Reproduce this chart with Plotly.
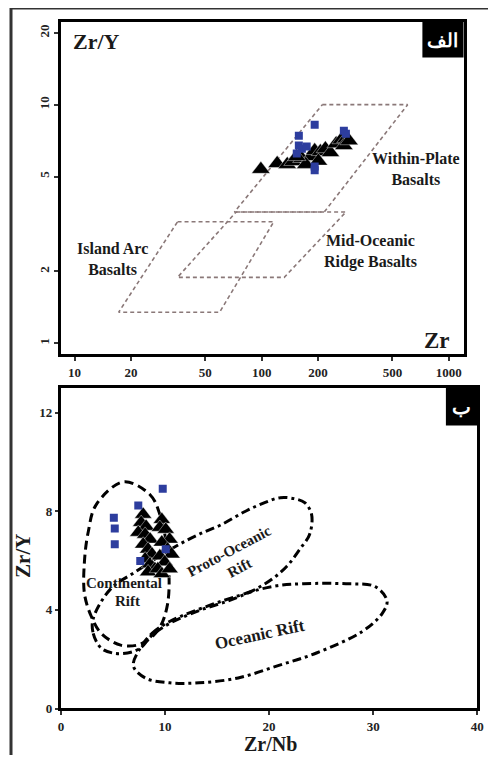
import plotly.graph_objects as go

# page shows the figure offset by the default 8px body margin
OFF = 8
W, H = 496 - OFF, 763 - OFF
SERIF = "Liberation Serif"

# ---------------- Panel A (Zr/Y vs Zr, log-log) ----------------
tri_a_zr = [99, 121, 137, 147, 164, 183, 192, 206, 219, 233, 250, 266, 282, 275, 293, 201, 172, 154]
tri_a_zry = [5.36, 5.67, 5.62, 5.78, 5.95, 6.06, 6.42, 6.36, 6.54, 6.30, 6.86, 7.13, 7.20, 6.74, 7.06, 5.80, 5.62, 6.06]
sq_a_zr = [192, 158, 158, 164, 154, 174, 192, 192, 275, 282]
sq_a_zry = [8.23, 7.41, 6.74, 6.54, 6.24, 6.68, 5.51, 5.31, 7.78, 7.55]

wpb_zr = [211, 603, 216, 71.5, 211]
wpb_zry = [10.0, 10.0, 3.55, 3.55, 10.0]
morb_zr = [73, 282, 132, 35.5, 73]
morb_zry = [3.55, 3.55, 1.89, 1.89, 3.55]
iab_zr = [35.5, 116, 59.6, 17.2, 35.5]
iab_zry = [3.23, 3.23, 1.35, 1.35, 3.23]

xa_ticks = [10, 20, 50, 100, 200, 500, 1000]
ya_ticks = [1, 2, 5, 10, 20]

# ---------------- Panel B (Zr/Y vs Zr/Nb) ----------------
tri_b_zrnb = [7.90, 7.71, 8.18, 7.43, 8.09, 8.56, 7.90, 8.37, 8.75, 8.09, 8.56, 9.03, 8.37,
              9.69, 9.50, 10.07, 10.44, 9.69, 10.25, 10.63, 9.50, 9.97, 9.31, 9.69, 10.44]
tri_b_zry = [7.87, 7.54, 7.38, 7.14, 7.06, 6.86, 6.66, 6.46, 6.26, 6.06, 5.86, 5.66, 5.54,
             7.66, 7.34, 7.26, 6.86, 6.74, 6.46, 6.26, 6.18, 5.94, 5.66, 5.46, 5.66]
sq_b_zrnb = [5.08, 5.17, 5.17, 7.43, 9.78, 10.07, 7.62]
sq_b_zry = [7.74, 7.30, 6.66, 8.23, 8.91, 6.46, 5.98]

cont_x = [6.02, 8.56, 9.50, 10.25, 10.25, 9.31, 7.62, 5.74, 3.86, 2.92, 2.26, 2.26, 2.63, 3.39, 6.02]
cont_y = [9.19, 8.67, 7.87, 6.26, 4.25, 3.17, 2.61, 2.57, 3.05, 3.73, 4.65, 5.98, 7.18, 8.27, 9.19]

proto_x = [3.10, 3.10, 3.86, 4.99, 6.40, 7.62, 8.75, 10.44, 13.26, 16.09, 18.44, 20.32, 21.73, 22.95,
           23.89, 24.08, 23.42, 22.39, 21.07, 19.57, 17.69, 15.43, 13.26, 11.38, 9.50, 7.15, 4.80, 3.10]
proto_y = [3.65, 3.05, 2.45, 2.25, 2.25, 2.45, 2.97, 3.45, 3.97, 4.37, 4.78, 5.26, 5.78, 6.46,
           7.06, 7.87, 8.35, 8.51, 8.55, 8.35, 7.99, 7.46, 7.06, 6.66, 6.18, 5.54, 4.86, 3.65]

ocean_x = [7.62, 8.75, 10.44, 14.20, 17.03, 18.63, 20.79, 23.33, 27.38, 30.20, 31.33, 30.86, 28.97,
           24.55, 20.79, 17.03, 13.26, 10.44, 8.09, 6.96, 7.62]
ocean_y = [2.45, 3.05, 3.53, 4.17, 4.57, 4.78, 4.98, 5.06, 5.06, 4.94, 4.37, 3.85, 3.13,
           2.25, 1.73, 1.24, 1.04, 1.04, 1.24, 1.73, 2.45]

xb_ticks = [0, 10, 20, 30, 40]
yb_ticks = [0, 4, 8, 12]

TRI_COLOR = "black"
SQ_COLOR = "#2d3d9e"
FIELD_COLOR = "#8a7878"


def px_x(p):
    return (p - OFF) / W


def px_y(p):
    return 1 - (p - OFF) / H


fig = go.Figure()

# fields panel A
for fx, fy in [(wpb_zr, wpb_zry), (morb_zr, morb_zry), (iab_zr, iab_zry)]:
    fig.add_trace(go.Scatter(x=fx, y=fy, mode="lines", xaxis="x", yaxis="y",
                             line=dict(color=FIELD_COLOR, width=1.6, dash="4px,3px"),
                             hoverinfo="skip", showlegend=False))

fig.add_trace(go.Scatter(x=tri_a_zr, y=tri_a_zry, mode="markers", xaxis="x", yaxis="y",
                         marker=dict(symbol="triangle-up", size=16, color=TRI_COLOR,
                                     line=dict(color="white", width=0.4)),
                         showlegend=False))
fig.add_trace(go.Scatter(x=sq_a_zr, y=sq_a_zry, mode="markers", xaxis="x", yaxis="y",
                         marker=dict(symbol="square", size=8, color=SQ_COLOR), showlegend=False))

# fields panel B
fig.add_trace(go.Scatter(x=cont_x, y=cont_y, mode="lines", xaxis="x2", yaxis="y2",
                         line=dict(color="black", width=3, dash="9px,5px", shape="spline", smoothing=1.0),
                         hoverinfo="skip", showlegend=False))
for fx, fy in [(proto_x, proto_y), (ocean_x, ocean_y)]:
    fig.add_trace(go.Scatter(x=fx, y=fy, mode="lines", xaxis="x2", yaxis="y2",
                             line=dict(color="black", width=3, dash="9px,4px,3px,4px",
                                       shape="spline", smoothing=1.0),
                             hoverinfo="skip", showlegend=False))

fig.add_trace(go.Scatter(x=tri_b_zrnb, y=tri_b_zry, mode="markers", xaxis="x2", yaxis="y2",
                         marker=dict(symbol="triangle-up", size=15, color=TRI_COLOR,
                                     line=dict(color="white", width=0.4)),
                         showlegend=False))
fig.add_trace(go.Scatter(x=sq_b_zrnb, y=sq_b_zry, mode="markers", xaxis="x2", yaxis="y2",
                         marker=dict(symbol="square", size=8, color=SQ_COLOR), showlegend=False))

tickfont = dict(family=SERIF, size=13, color="#222")
axis_common = dict(showline=True, linewidth=3, linecolor="black", mirror=True,
                   ticks="outside", ticklen=4, tickwidth=1.5, tickcolor="#333",
                   showgrid=False, zeroline=False, tickfont=tickfont)

fig.update_layout(
    width=W, height=H,
    margin=dict(l=0, r=0, t=0, b=0),
    paper_bgcolor="white", plot_bgcolor="white",
    showlegend=False,
    xaxis=dict(axis_common, type="log", range=[0.927, 3.079], domain=[px_x(59), px_x(470)],
               anchor="y", tickvals=xa_ticks, ticktext=[f"<b>{v}</b>" for v in xa_ticks]),
    yaxis=dict(axis_common, type="log", range=[-0.046, 1.347], domain=[px_y(358), px_y(22)],
               anchor="x", tickvals=ya_ticks, ticktext=[f"<b>{v}</b>" for v in ya_ticks],
               tickangle=-90),
    xaxis2=dict(axis_common, range=[0, 40], domain=[px_x(59), px_x(484)], anchor="y2",
                tickvals=xb_ticks, ticktext=[f"<b>{v}</b>" for v in xb_ticks], ticklen=4),
    yaxis2=dict(axis_common, range=[0, 13], domain=[px_y(716), px_y(392)], anchor="x2",
                tickvals=yb_ticks, ticktext=[f"<b>{v}</b>" for v in yb_ticks], ticklen=3),
)

ann = []


def txt(x, y, s, size=12, angle=0, color="#1a1a1a", xanchor="center"):
    ann.append(dict(x=px_x(x), y=px_y(y), xref="paper", yref="paper", text=s, showarrow=False,
                    font=dict(family=SERIF, size=size, color=color), textangle=angle,
                    xanchor=xanchor, yanchor="middle", align="center"))


txt(95, 42, "<b>Zr/Y</b>", size=22)
txt(443, 344, "<b>Zr</b>", size=23)
txt(421, 171, "<b>Within-Plate<br>Basalts</b>", size=16)
txt(375, 254, "<b>Mid-Oceanic<br>Ridge Basalts</b>", size=16)
txt(112, 262, "<b>Island Arc<br>Basalts</b>", size=16)

txt(123, 589, "<b>Continental</b>", size=15)
txt(127, 607, "<b>Rift</b>", size=15)
txt(231, 557, "<b>Proto-Oceanic</b>", size=15, angle=-28)
txt(241, 574, "<b>Rift</b>", size=15, angle=-28)
txt(262, 641, "<b>Oceanic Rift</b>", size=17, angle=-12)
txt(273, 752, "<b>Zr/Nb</b>", size=20)
txt(20, 562, "<b>Zr/Y</b>", size=21, angle=-90)

# panel tags and outer frame
shapes = [
    dict(type="rect", xref="paper", yref="paper", x0=px_x(428), x1=px_x(470), y0=px_y(58), y1=px_y(22),
         fillcolor="black", line=dict(width=0)),
    dict(type="rect", xref="paper", yref="paper", x0=px_x(452), x1=px_x(484), y0=px_y(430), y1=px_y(392),
         fillcolor="black", line=dict(width=0)),
    dict(type="line", xref="paper", yref="paper", x0=0, x1=1, y0=1, y1=1,
         line=dict(color="#333", width=3)),
    dict(type="line", xref="paper", yref="paper", x0=0, x1=0, y0=1, y1=0,
         line=dict(color="#333", width=3)),
]
ann.append(dict(x=px_x(449), y=px_y(40), xref="paper", yref="paper", text="<b>الف</b>", showarrow=False,
                font=dict(family="Noto Sans", size=19, color="white"), xanchor="center", yanchor="middle"))
ann.append(dict(x=px_x(468), y=px_y(411), xref="paper", yref="paper", text="<b>ب</b>", showarrow=False,
                font=dict(family="Noto Sans", size=20, color="white"), xanchor="center", yanchor="middle"))

fig.update_layout(annotations=ann, shapes=shapes)
fig.write_html("out.html")
